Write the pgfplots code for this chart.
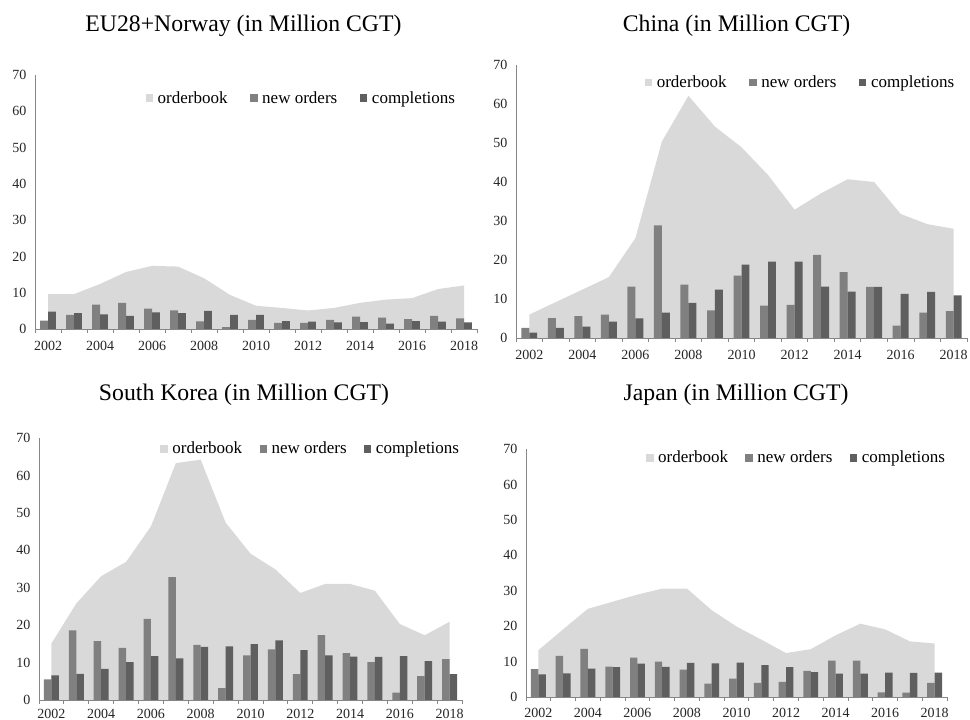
\documentclass[border=0pt]{standalone}
\usepackage{pgfplots}
\pgfplotsset{compat=1.18}
\usepackage{pgfplotstable}
\usepackage{fontspec}
\setmainfont{Liberation Serif}

\definecolor{obk}{RGB}{217,217,217}
\definecolor{nwo}{RGB}{128,128,128}
\definecolor{cmp}{RGB}{95,95,95}
\definecolor{axg}{RGB}{134,134,134}

\pgfplotstableread{
x ob no co
0 9.6 2.3 4.8
1 9.6 3.9 4.4
2 12.4 6.7 4.0
3 15.7 7.2 3.6
4 17.4 5.6 4.6
5 17.2 5.1 4.4
6 14.0 2.1 5.0
7 9.4 0.5 3.9
8 6.4 2.5 3.9
9 5.8 1.7 2.2
10 5.1 1.7 2.0
11 5.8 2.5 1.8
12 7.2 3.4 1.9
13 8.1 3.1 1.5
14 8.5 2.7 2.2
15 11.0 3.6 2.0
16 12.0 2.9 1.8
}\eu

\pgfplotstableread{
x ob no co
0 6.0 2.6 1.4
1 9.2 5.1 2.6
2 12.4 5.6 2.9
3 15.6 6.0 4.2
4 25.6 13.2 5.0
5 50.4 28.9 6.5
6 62.1 13.7 9.0
7 54.2 7.1 12.4
8 48.9 16.0 18.8
9 41.8 8.3 19.6
10 32.9 8.5 19.6
11 37.1 21.3 13.2
12 40.7 16.9 11.9
13 40.0 13.1 13.1
14 31.8 3.2 11.3
15 29.2 6.5 11.8
16 28.0 6.9 10.9
}\china

\pgfplotstableread{
x ob no co
0 15.1 5.5 6.6
1 25.8 18.6 7.0
2 33.1 15.7 8.3
3 36.9 13.9 10.1
4 46.4 21.7 11.7
5 63.3 32.8 11.1
6 64.2 14.7 14.2
7 47.4 3.2 14.3
8 39.1 11.9 14.9
9 34.9 13.5 15.9
10 28.6 6.9 13.3
11 31.0 17.3 11.9
12 31.0 12.5 11.6
13 29.2 10.1 11.5
14 20.3 2.0 11.7
15 17.3 6.4 10.4
16 20.9 10.9 6.9
}\korea

\pgfplotstableread{
x ob no co
0 13.2 7.9 6.4
1 19.1 11.6 6.7
2 24.9 13.6 8.0
3 26.9 8.6 8.4
4 28.9 11.1 9.4
5 30.6 10.0 8.5
6 30.6 7.7 9.6
7 24.5 3.8 9.5
8 19.9 5.2 9.7
9 16.2 4.0 9.0
10 12.4 4.3 8.4
11 13.5 7.4 7.0
12 17.4 10.3 6.6
13 20.7 10.3 6.6
14 19.1 1.3 6.9
15 15.7 1.2 6.8
16 15.1 4.0 6.9
}\japan

\pgfplotsset{
  panel/.style={
    scale only axis,
    xmin=-0.5, xmax=16.5, ymin=0, ymax=70,
    axis x line*=bottom, axis y line*=left,
    axis line style={draw=axg, line width=0.6pt},
    xtick={0,2,...,16},
    xticklabels={2002,2004,2006,2008,2010,2012,2014,2016,2018},
    minor xtick={-0.5,0.5,...,16.5},
    major tick length=0pt,
    minor tick length=3pt,
    tick align=outside,
    tick style={draw=axg, line width=0.6pt},
    ytick={0,10,...,70},
    /pgf/number format/assume math mode=true,
    ticklabel style={font=\fontsize{10.5}{12}\selectfont, text=black!85},
    xticklabel style={yshift=-5.5pt},
    yticklabel style={xshift=-3pt},
    legend columns=3,
    legend cell align=left,
    legend style={draw=none, fill=none, inner sep=0pt, anchor=east,
      font=\fontsize{12.75}{14}\selectfont,
      /tikz/every odd column/.append style={column sep=1.5pt}},
    clip=false,
  },
  sq/.style={legend image code/.code={\fill[##1] (0pt,-2.75pt) rectangle (5.5pt,2.75pt);}},
  obstyle/.style={fill=obk, draw=none, sq},
  nostyle/.style={ybar, bar width=0.3, bar shift=-0.15, fill=nwo, draw=none, sq},
  costyle/.style={ybar, bar width=0.3, bar shift=0.15, fill=cmp, draw=none, sq},
}

\newcommand{\panelplots}[1]{%
  \addplot[obstyle] table[x=x,y=ob] {#1} \closedcycle;
  \addplot[nostyle] table[x=x,y=no] {#1};
  \addplot[costyle] table[x=x,y=co] {#1};
  \legend{orderbook,new orders,completions}
}

\begin{document}
\begin{tikzpicture}
\path[use as bounding box] (0,0) rectangle (727.5pt,540pt);

\node[anchor=base, font=\fontsize{17.8}{20}\selectfont] at (182.6pt,516pt) {EU28+Norway (in Million CGT)};
\node[anchor=base, font=\fontsize{17.8}{20}\selectfont] at (552.4pt,516pt) {China (in Million CGT)};
\node[anchor=base, font=\fontsize{17.8}{20}\selectfont] at (183pt,239.25pt) {South Korea (in Million CGT)};
\node[anchor=base, font=\fontsize{17.8}{20}\selectfont] at (552pt,239.25pt) {Japan (in Million CGT)};

\begin{axis}[panel, at={(26.25pt,293.25pt)}, anchor=south west,
  width=331.5pt, height=190.5pt,
  legend style={at={(0.957,0.909)}, /tikz/every even column/.append style={column sep=15pt}}]
  \panelplots{\eu}
\end{axis}

\begin{axis}[panel, at={(387pt,286.5pt)}, anchor=south west,
  width=338.25pt, height=204.75pt,
  legend style={at={(0.978,0.935)}, /tikz/every even column/.append style={column sep=15pt}}]
  \panelplots{\china}
\end{axis}

\begin{axis}[panel, at={(29.25pt,15pt)}, anchor=south west,
  width=317.25pt, height=196.5pt,
  xticklabel style={yshift=2.5pt},
  legend style={at={(1.0,0.958)}, /tikz/every even column/.append style={column sep=11pt}}]
  \panelplots{\korea}
\end{axis}

\begin{axis}[panel, at={(394.5pt,17.25pt)}, anchor=south west,
  width=315.75pt, height=186pt,
  xticklabel style={yshift=1pt},
  legend style={at={(1.002,0.964)}, /tikz/every even column/.append style={column sep=11pt}}]
  \panelplots{\japan}
\end{axis}
\end{tikzpicture}
\end{document}
